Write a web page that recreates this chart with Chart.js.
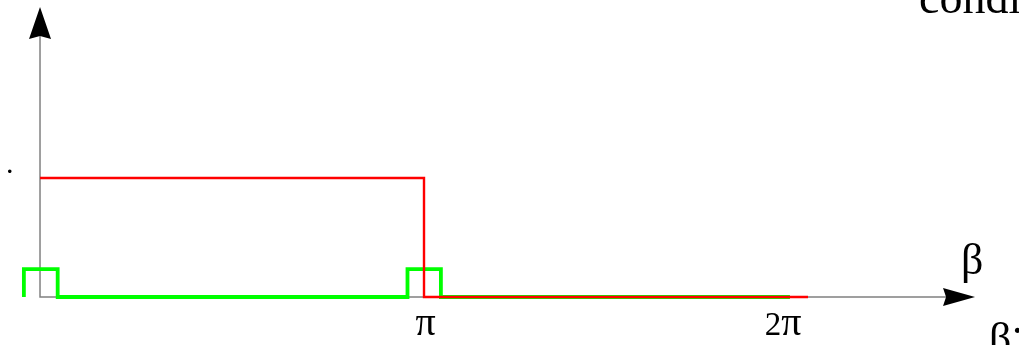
<!DOCTYPE html>
<html lang="en">
<head>
<meta charset="UTF-8">
<title>β</title>
<script src="https://cdn.jsdelivr.net/npm/chart.js"></script>
<style>
  body { margin: 0; background: #fff; }
  #wrap { width: 1019px; height: 345px; }
</style>
</head>
<body>
<div id="wrap"><canvas id="pulseChart" width="1019" height="345"></canvas></div>
<script>
// x is in multiples of π, y in units of the red level
const redX = [0, 1, 1, 2];
const redY = [1, 1, 0, 0];
const greenX = [-0.042, -0.042, 0.046, 0.046, 0.957, 0.957, 1.044, 1.044, 1.953];
const greenY = [0, 0.234, 0.234, 0, 0, 0.234, 0.234, 0, 0];
const xTicks = [1, 2];
const xTickLabels = ['π', '2π'];

// visible window and where the arrow tips sit
const xRange = [-0.1042, 2.5495];
const yRange = [-0.4034, 2.4958];
const axisEnd = { x: 2.435, y: 2.437 };

const toPoints = (xs, ys) => xs.map((x, i) => ({ x: x, y: ys[i] }));

const serif = '"Liberation Serif", "Times New Roman", serif';

// digits and π use different sizes so both come out about the same height
function drawMixedLabel(ctx, text, cx, baseline) {
    const runs = Array.from(text).map(ch => ({ ch, font: (ch === 'π' ? '40px ' : '33px ') + serif }));
    let width = 0;
    runs.forEach(r => { ctx.font = r.font; r.w = ctx.measureText(r.ch).width; width += r.w; });
    let left = cx - width / 2;
    ctx.textAlign = 'left';
    runs.forEach(r => { ctx.font = r.font; ctx.fillText(r.ch, left, baseline); left += r.w; });
}

const arrowAxes = {
    id: 'arrowAxes',
    beforeDatasetsDraw(chart) {
        const { ctx, scales: { x, y } } = chart;
        const x0 = x.getPixelForValue(0), y0 = y.getPixelForValue(0);
        const xEnd = x.getPixelForValue(axisEnd.x), yEnd = y.getPixelForValue(axisEnd.y);
        ctx.save();
        ctx.strokeStyle = '#808080';
        ctx.lineWidth = 1.5;
        ctx.beginPath();
        ctx.moveTo(x0, yEnd + 20);
        ctx.lineTo(x0, y0);
        ctx.lineTo(xEnd - 20, y0);
        ctx.stroke();

        ctx.fillStyle = '#000';
        // up arrow
        ctx.beginPath();
        ctx.moveTo(x0, yEnd);
        ctx.lineTo(x0 - 11, yEnd + 32);
        ctx.lineTo(x0, yEnd + 29);
        ctx.lineTo(x0 + 11, yEnd + 32);
        ctx.closePath();
        ctx.fill();
        // right arrow
        ctx.beginPath();
        ctx.moveTo(xEnd, y0);
        ctx.lineTo(xEnd - 32, y0 - 9);
        ctx.lineTo(xEnd - 29, y0);
        ctx.lineTo(xEnd - 32, y0 + 9);
        ctx.closePath();
        ctx.fill();
        ctx.restore();
    },
    afterDraw(chart) {
        const { ctx, scales: { x, y } } = chart;
        const y0 = y.getPixelForValue(0);
        const nudge = [1.5, -25];
        ctx.save();
        ctx.fillStyle = '#000';
        ctx.textBaseline = 'alphabetic';

        xTicks.forEach((v, i) => {
            drawMixedLabel(ctx, xTickLabels[i], x.getPixelForValue(v) + nudge[i], y0 + 38);
        });

        ctx.textAlign = 'left';
        ctx.font = '44px ' + serif;
        ctx.fillText('β', 961, 274);
        ctx.fillText('β', 989, 353);
        ctx.fillText('.', 1012, 333);

        ctx.font = '46px ' + serif;
        ctx.fillText('condi', 919, 13);

        ctx.font = '30px ' + serif;
        ctx.fillText('.', 6, 173);
        ctx.restore();
    }
};

const ctx = document.getElementById('pulseChart').getContext('2d');
const pulseChart = new Chart(ctx, {
    type: 'scatter',
    data: {
        datasets: [
            {
                label: 'red',
                data: toPoints(redX, redY),
                showLine: true,
                borderColor: '#ff0000',
                borderWidth: 2.4,
                pointRadius: 0,
                tension: 0,
                borderJoinStyle: 'miter'
            },
            {
                label: 'green',
                data: toPoints(greenX, greenY),
                showLine: true,
                borderColor: '#00ff00',
                borderWidth: 3.8,
                pointRadius: 0,
                tension: 0,
                borderJoinStyle: 'miter'
            }
        ]
    },
    options: {
        responsive: false,
        animation: false,
        devicePixelRatio: 1,
        layout: { padding: 0 },
        plugins: {
            legend: { display: false },
            tooltip: { enabled: false }
        },
        scales: {
            x: { type: 'linear', min: xRange[0], max: xRange[1], display: false },
            y: { type: 'linear', min: yRange[0], max: yRange[1], display: false }
        }
    },
    plugins: [arrowAxes]
});
</script>
</body>
</html>
